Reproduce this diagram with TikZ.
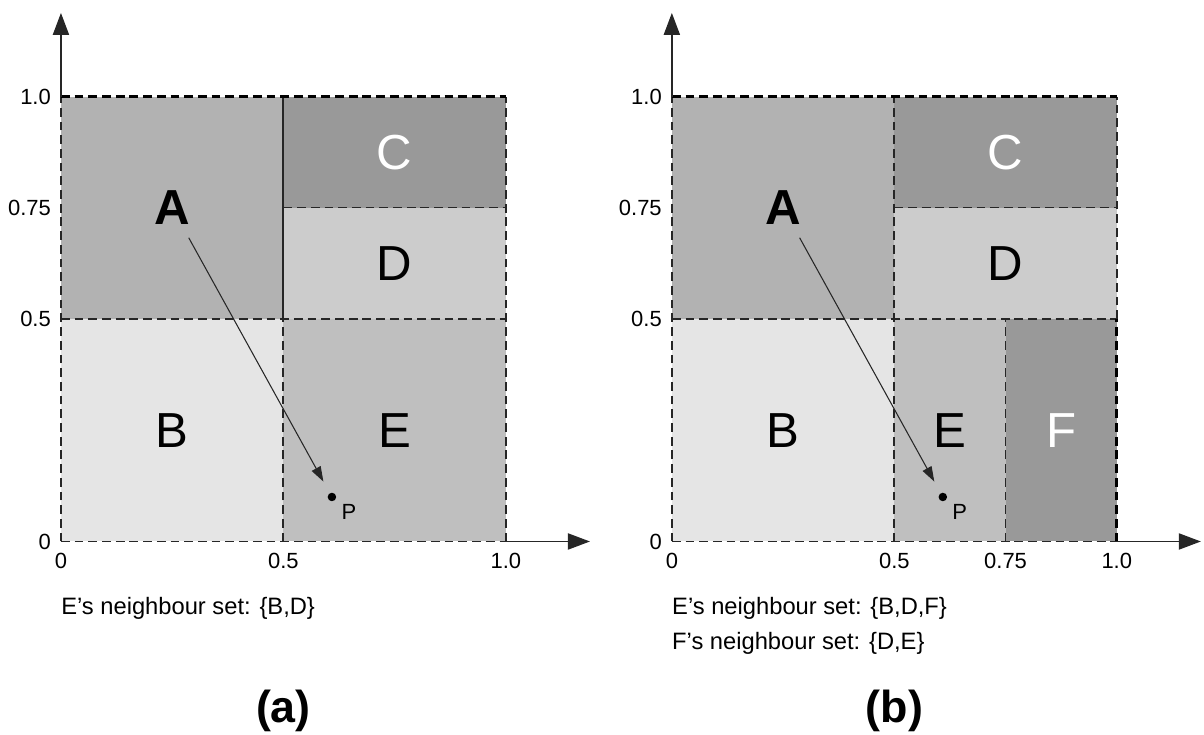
\documentclass[tikz,border=0pt]{standalone}
\usepackage{fontspec}
\setmainfont{Liberation Sans}
\usetikzlibrary{arrows.meta}

\definecolor{cellA}{gray}{0.70}
\definecolor{cellB}{gray}{0.90}
\definecolor{cellC}{gray}{0.60}
\definecolor{cellD}{gray}{0.80}
\definecolor{cellE}{gray}{0.75}
\definecolor{cellF}{gray}{0.60}
\definecolor{edge}{gray}{0.15}

\begin{document}
\begin{tikzpicture}[x=8.9cm, y=8.9cm,
    region/.style={font=\fontsize{28}{30}\selectfont, inner sep=1pt},
    tick/.style={font=\fontsize{12.5}{14}\selectfont, inner sep=0pt},
    note/.style={font=\fontsize{13.5}{16}\selectfont, inner sep=0pt, anchor=base west},
    caption/.style={font=\fontsize{25.5}{28}\selectfont\bfseries, inner sep=0pt, anchor=base},
    thickedge/.style={draw=black, line width=1.7pt, dash pattern=on 5pt off 2.8pt},
    midedge/.style={draw=edge, line width=1.1pt, dash pattern=on 5pt off 2.8pt},
    thinedge/.style={draw=edge, line width=0.8pt, dash pattern=on 5pt off 2.8pt},
    axis/.style={draw=edge, line width=1.1pt, -{Triangle[length=0.44cm, width=0.32cm]}},
    dot/.style={circle, fill=black, inner sep=0pt, minimum size=0.17cm},
    move/.style={draw=black!85, line width=0.6pt, -{Triangle[length=0.3cm, width=0.2cm]},
                 shorten <=0.25cm, shorten >=0.26cm}]
    \useasboundingbox (-0.137,-0.434) rectangle (2.569,1.217);

    % (a) before the split
    \fill[cellA] (0,0.5) rectangle (0.5,1);
    \fill[cellC] (0.5,0.75) rectangle (1,1);
    \fill[cellD] (0.5,0.5) rectangle (1,0.75);
    \fill[cellB] (0,0) rectangle (0.5,0.5);
    \fill[cellE] (0.5,0) rectangle (1,0.5);

    \draw[thinedge] (0.5,0.75) -- (1,0.75);
    \draw[midedge] (0.5,0) -- (0.5,0.5);
    \draw[draw=edge, line width=1.1pt] (0.5,0.5) -- (0.5,1);
    \draw[midedge] (0,0.5) -- (1,0.5);
    \draw[midedge] (0,0) -- (0,1);
    \draw[midedge] (0,0) -- (1,0);
    \draw[midedge] (1,0) -- (1,1);
    \draw[thickedge] (0,1) -- (1,1);

    \draw[axis] (0,1) -- (0,1.188);
    \draw[axis] (1,0) -- (1.189,0);

    \foreach \y/\t in {1/1.0, 0.75/0.75, 0.5/0.5, 0/0}
        \node[tick, anchor=east] at (-0.022,\y) {\t};
    \foreach \x/\t in {0/0, 0.5/0.5, 1/1.0}
        \node[tick, anchor=north] at (\x,-0.026) {\t};

    \node[region, font=\fontsize{28}{30}\selectfont\bfseries] (A1) at (0.25,0.75) {A};
    \node[region] (B1) at (0.25,0.25) {B};
    \node[region, text=white] (C1) at (0.75,0.875) {C};
    \node[region] (D1) at (0.75,0.625) {D};
    \node[region] (E1) at (0.75,0.25) {E};

    \node[dot] (P1) at (0.609,0.1) {};
    \node[tick] (P1lbl) at (0.647,0.067) {P};
    \draw[move] (A1) -- (P1);

    \node[note] (set1) at (0,-0.165) {E's neighbour set: \{B,D\}};
    \node[caption] (capa) at (0.5,-0.407) {(a)};

    % (b) after the split
    \begin{scope}[shift={(1.373,0)}]
    \fill[cellA] (0,0.5) rectangle (0.5,1);
    \fill[cellC] (0.5,0.75) rectangle (1,1);
    \fill[cellD] (0.5,0.5) rectangle (1,0.75);
    \fill[cellB] (0,0) rectangle (0.5,0.5);
    \fill[cellE] (0.5,0) rectangle (0.75,0.5);
    \fill[cellF] (0.75,0) rectangle (1,0.5);

    \draw[thinedge] (0.5,0.75) -- (1,0.75);
    \draw[midedge] (0.5,0) -- (0.5,1);
    \draw[thinedge] (0.75,0) -- (0.75,0.5);
    \draw[midedge] (0,0.5) -- (1,0.5);
    \draw[midedge] (0,0) -- (0,1);
    \draw[midedge] (0,0) -- (1,0);
    \draw[thinedge] (1,0.5) -- (1,1);
    \draw[thickedge] (1,0) -- (1,0.5);
    \draw[thickedge] (0,1) -- (1,1);

    \draw[axis] (0,1) -- (0,1.188);
    \draw[axis] (1,0) -- (1.189,0);

    \foreach \y/\t in {1/1.0, 0.75/0.75, 0.5/0.5, 0/0}
        \node[tick, anchor=east] at (-0.022,\y) {\t};
    \foreach \x/\t in {0/0, 0.5/0.5, 0.75/0.75, 1/1.0}
        \node[tick, anchor=north] at (\x,-0.026) {\t};

    \node[region, font=\fontsize{28}{30}\selectfont\bfseries] (A2) at (0.25,0.75) {A};
    \node[region] (B2) at (0.25,0.25) {B};
    \node[region, text=white] (C2) at (0.75,0.875) {C};
    \node[region] (D2) at (0.75,0.625) {D};
    \node[region] (E2) at (0.625,0.25) {E};
    \node[region, text=white] (F2) at (0.875,0.25) {F};

    \node[dot] (P2) at (0.609,0.1) {};
    \node[tick] (P2lbl) at (0.647,0.067) {P};
    \draw[move] (A2) -- (P2);

    \node[note] (set2) at (0,-0.165) {E's neighbour set: \{B,D,F\}};
    \node[note] (set3) at (0,-0.243) {F's neighbour set: \{D,E\}};
    \node[caption] (capb) at (0.5,-0.407) {(b)};
    \end{scope}
\end{tikzpicture}
\end{document}
